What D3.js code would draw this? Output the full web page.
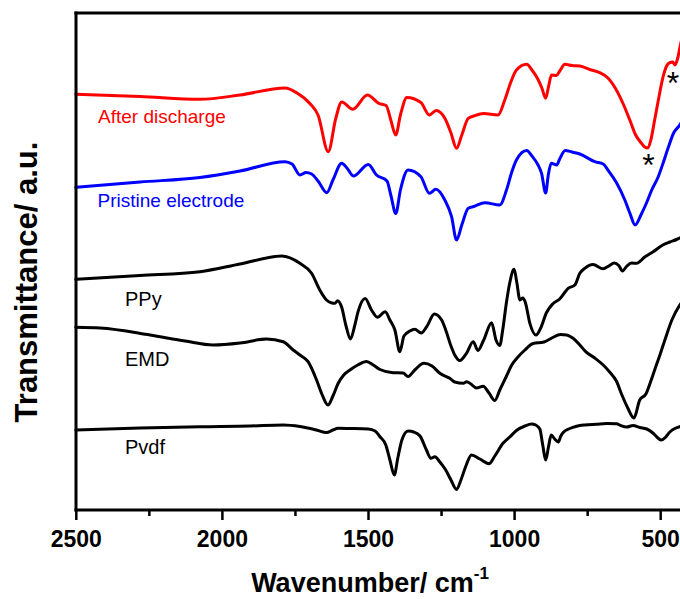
<!DOCTYPE html>
<html>
<head>
<meta charset="utf-8">
<script src="https://cdn.jsdelivr.net/npm/d3@7/dist/d3.min.js"></script>
<style>
  html, body { margin: 0; padding: 0; background: #fff; }
  svg { display: block; }
  text { font-family: "Liberation Sans", Arial, Helvetica, sans-serif; }
</style>
</head>
<body>
<svg id="chart" width="680" height="599"></svg>
<script>
// FTIR spectra: [wavenumber (cm^-1), transmittance (a.u., offset per trace)]
const afterDischarge = [[2500,415.7],[2280,413.5],[2075,410.7],[1938,415],[1784,422],[1743,417],[1699,406.5],[1671,395],[1636,358.3],[1610,392],[1590,408],[1552,400.7],[1502,415],[1463,406.7],[1438,404.5],[1422,390],[1405,375],[1389,395],[1367,412.5],[1319,407.5],[1290,395],[1267,399.5],[1237,391.7],[1216,377],[1197,361.7],[1179,375],[1157,391.7],[1138,394],[1104,396.5],[1055,395],[1032,410],[1011,428],[992,440],[957,445.7],[939,440],[918,430.5],[905,422],[892,411.7],[881,425],[872,435],[855,434.5],[844,439],[826,445.7],[802,444.5],[775,444],[741,440.5],[707,437.3],[679,432],[650,420],[628,407],[604,390],[584,375],[564,366.7],[553,363],[542,362],[532,370],[519,390],[505,412],[490,433.3],[478,444],[467,447.3],[457,448],[450,445],[440,452],[433,462],[419,480]];

const pristine = [[2500,322.7],[2280,328],[2075,332.5],[1938,339],[1784,348.3],[1760,346],[1733,335],[1712,337.5],[1693,336],[1671,329],[1641,317.3],[1620,330],[1590,346.7],[1572,342],[1550,334],[1499,345.5],[1471,335],[1435,329],[1422,315],[1405,296.5],[1389,320],[1363,340],[1319,333.3],[1290,316.7],[1268,320.7],[1237,310],[1214,293.3],[1197,270],[1179,285],[1157,301.7],[1138,303.5],[1100,307.3],[1049,305],[1026,320],[1008,338],[992,350],[957,359.5],[939,354],[918,345],[906,336.7],[892,317],[883,335],[873,346.7],[854,345],[844,351],[825,359.5],[802,358],[775,356],[724,348.3],[695,346],[679,340],[650,327.5],[621,310],[604,297],[586,285],[566,295],[547,307],[529,320],[507,333],[490,347],[473,362],[454,377],[433,385],[419,392]];

const ppy = [[2500,230.7],[2280,234.5],[2075,238.3],[1938,246],[1795,254],[1733,246.7],[1693,236.7],[1665,220],[1642,210],[1624,207],[1613,206.7],[1604,209.3],[1590,202.7],[1576,185],[1560,171],[1545,185],[1534,198.3],[1510,211.5],[1488,200],[1468,192.7],[1441,198.3],[1425,190],[1408,180],[1391,158.3],[1377,174],[1357,179],[1340,180.7],[1318,177],[1299,183.3],[1273,196],[1248,190],[1234,180],[1216,164],[1203,155],[1186,149.5],[1163,156.7],[1140,168.3],[1124,159.5],[1104,170],[1077,187.3],[1062,170],[1049,164.5],[1039,180],[1026,208],[1015,227],[1000,240.7],[991,228],[980,210],[970,212],[962,208],[946,186.7],[925,175],[909,182],[889,197.5],[868,206],[844,211],[815,221.7],[792,225],[775,236.7],[758,241.7],[730,245.5],[695,241.2],[676,244],[657,247],[642,244.5],[629,239],[614,244],[598,247],[581,246.7],[553,253],[524,258.3],[491,265],[467,268],[444,270.5],[419,274]];

const emd = [[2500,182.7],[2417,182],[2246,175],[2126,169],[2030,165],[1938,167],[1847,171],[1790,168.3],[1756,160],[1733,155],[1705,148.3],[1676,130],[1658,116],[1637,105],[1620,114],[1602,126.7],[1583,135],[1562,140],[1535,145],[1505,148.5],[1482,145],[1459,140.5],[1414,137.3],[1380,137],[1363,133.5],[1340,140],[1309,146.7],[1281,144],[1254,136.7],[1220,131.7],[1203,128],[1174,126.7],[1162,128.3],[1148,126],[1129,122],[1106,123.7],[1086,117],[1066,109.5],[1049,120],[1026,134],[1008,145],[986,153.3],[963,160],[935,166.5],[898,168],[871,172],[841,175.5],[820,175],[798,171.7],[775,165],[755,158.3],[724,152],[695,145],[673,138],[650,129],[631,115],[611,102],[590,92],[570,110],[549,116],[532,129],[519,140],[501,155],[484,170],[460,190],[433,205],[419,210]];

const pvdf = [[2500,80],[2280,82],[2075,83.3],[1904,84],[1790,85],[1733,83.5],[1676,80],[1642,77.5],[1620,80],[1602,81.7],[1562,81.5],[1499,81],[1476,79],[1459,73.3],[1439,65],[1425,50],[1410,35],[1398,52],[1384,70],[1363,79],[1343,78],[1322,74],[1300,60],[1285,51.7],[1271,53.3],[1254,48],[1234,40],[1216,30],[1197,20.5],[1182,30],[1165,44],[1146,55],[1117,51],[1086,46.2],[1066,54],[1038,66.7],[1015,73],[992,79.5],[963,84],[940,86],[926,85],[912,81],[902,65],[892,50],[883,62],[873,75],[861,71],[849,68],[840,74],[832,77.5],[809,81.5],[786,83.7],[758,85],[718,85.8],[683,86.5],[649,86.2],[635,84.5],[615,83],[593,84.5],[570,82.5],[546,81],[525,77],[508,72],[496,70],[481,73],[467,78],[450,81.5],[433,83.3],[419,84]];

const seriesNames = ["After discharge", "Pristine electrode", "PPy", "EMD", "Pvdf"];
const seriesData = [afterDischarge, pristine, ppy, emd, pvdf];
const seriesColors = ["#ff0000", "#0000ff", "#000000", "#000000", "#000000"];

const majorTicks = [2500, 2000, 1500, 1000, 500];
const minorTicks = [2250, 1750, 1250, 750];

// marked bands (asterisks) on the after-discharge trace: [wavenumber, a.u.]
const markedBands = [[540, 350], [456, 432]];

const svg = d3.select("#chart");
const W = 680, H = 599;
const plotLeft = 76, plotTop = 13, plotBottom = 510;

const x = d3.scaleLinear().domain([2500, 500]).range([75.8, 660.2]);
const y = d3.scaleLinear().domain([0, 497]).range([plotBottom, plotTop]);

// spectra
const line = d3.line()
  .x(d => x(d[0]))
  .y(d => y(d[1]))
  .curve(d3.curveMonotoneX);

svg.append("g").selectAll("path")
  .data(seriesData)
  .join("path")
  .attr("d", line)
  .attr("fill", "none")
  .attr("stroke", (d, i) => seriesColors[i])
  .attr("stroke-width", 3)
  .attr("stroke-linejoin", "round")
  .attr("stroke-linecap", "round");

// frame: left and top borders
svg.append("line").attr("x1", plotLeft).attr("x2", plotLeft).attr("y1", plotTop - 1.5).attr("y2", plotBottom + 1.5)
  .attr("stroke", "#000").attr("stroke-width", 3);
svg.append("line").attr("x1", plotLeft - 1.5).attr("x2", W + 10).attr("y1", plotTop).attr("y2", plotTop)
  .attr("stroke", "#000").attr("stroke-width", 3);

// x axis
const axisG = svg.append("g").attr("transform", `translate(0,${plotBottom})`);
axisG.call(d3.axisBottom(x).tickValues(majorTicks).tickSize(10).tickFormat(d3.format("d")));
axisG.select(".domain").remove();
axisG.selectAll(".tick line").attr("stroke", "#000").attr("stroke-width", 2.5);
axisG.selectAll(".tick text")
  .attr("y", 36.7).attr("dy", 0)
  .attr("fill", "#000")
  .style("font-family", "'Liberation Sans', Arial, sans-serif")
  .style("font-size", "23px")
  .style("font-weight", "bold");

const minorG = svg.append("g").attr("transform", `translate(0,${plotBottom})`);
minorG.call(d3.axisBottom(x).tickValues(minorTicks).tickSize(6).tickFormat(""));
minorG.select(".domain").remove();
minorG.selectAll(".tick line").attr("stroke", "#000").attr("stroke-width", 2.5);

svg.append("line").attr("x1", plotLeft - 1.5).attr("x2", W + 10).attr("y1", plotBottom).attr("y2", plotBottom)
  .attr("stroke", "#000").attr("stroke-width", 3);

// axis titles
const xTitle = svg.append("text")
  .attr("x", 370).attr("y", 592)
  .attr("text-anchor", "middle")
  .style("font-size", "27px").style("font-weight", "bold");
xTitle.append("tspan").text("Wavenumber/ cm");
xTitle.append("tspan").attr("dy", -13).style("font-size", "17px").text("-1");

svg.append("text")
  .attr("transform", "translate(37,282) rotate(-90)")
  .attr("text-anchor", "middle")
  .style("font-size", "31px").style("font-weight", "bold")
  .text("Transmittance/ a.u.");

// trace labels
const labelPos = [[98, 122.7, 19], [97.5, 206.5, 19], [125, 305.5, 20], [125, 366, 20], [125, 454.3, 20]];
svg.append("g").selectAll("text")
  .data(seriesNames)
  .join("text")
  .attr("x", (d, i) => labelPos[i][0])
  .attr("y", (d, i) => labelPos[i][1])
  .attr("fill", (d, i) => seriesColors[i])
  .style("font-size", (d, i) => labelPos[i][2] + "px")
  .text(d => d);

// asterisks marking bands (glyph centred on the given point)
svg.append("g").selectAll("text")
  .data(markedBands)
  .join("text")
  .attr("x", d => x(d[0]))
  .attr("y", d => y(d[1]) + 16)
  .attr("text-anchor", "middle")
  .style("font-size", "32px")
  .text("*");
</script>
</body>
</html>
